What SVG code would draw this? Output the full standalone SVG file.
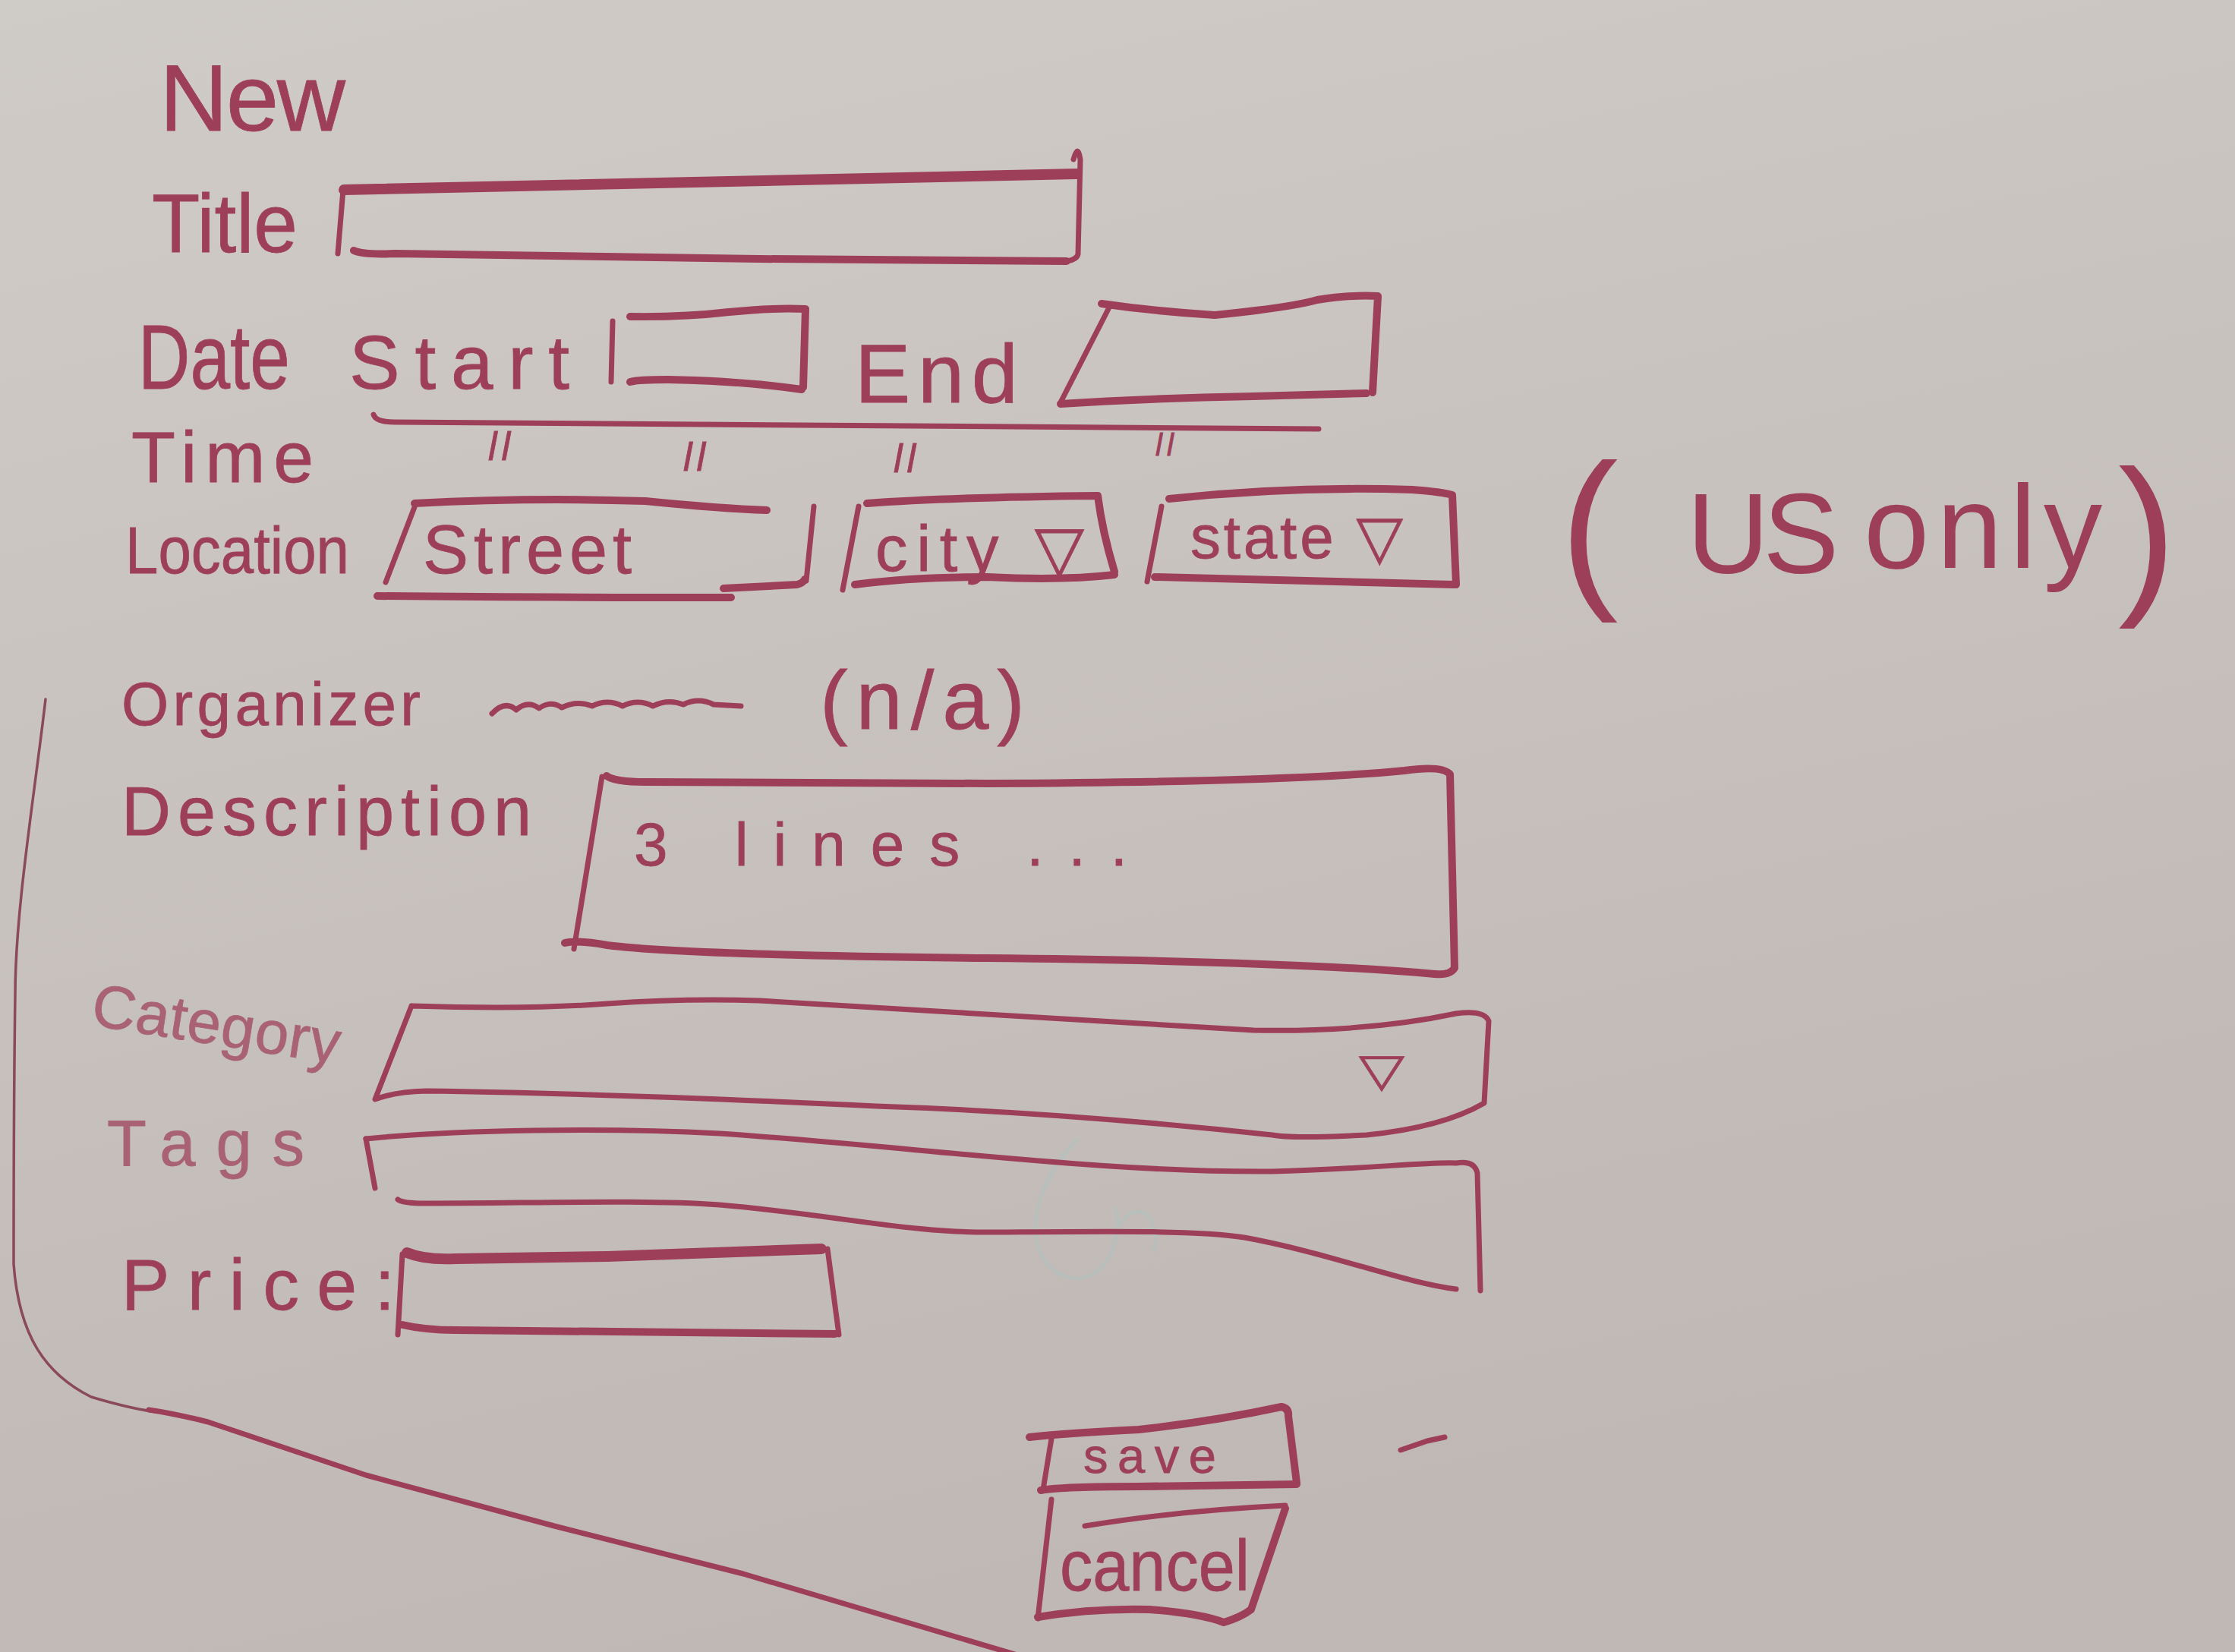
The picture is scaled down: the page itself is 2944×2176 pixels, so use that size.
<svg xmlns="http://www.w3.org/2000/svg" width="2944" height="2176" viewBox="0 0 2944 2176">
<defs>
<linearGradient id="bg" x1="0" y1="0" x2="0.3" y2="1">
<stop offset="0" stop-color="#cfcbc7"/>
<stop offset="0.5" stop-color="#c8c2be"/>
<stop offset="1" stop-color="#bfb8b4"/>
</linearGradient>
<radialGradient id="glare" cx="0.5" cy="0" r="0.5">
<stop offset="0" stop-color="#efece8" stop-opacity="0.95"/>
<stop offset="0.5" stop-color="#e4e1dd" stop-opacity="0.45"/>
<stop offset="1" stop-color="#d6d2ce" stop-opacity="0"/>
</radialGradient>
<style>
.ink{fill:none;stroke:#9e3f59;stroke-linecap:round;stroke-linejoin:round;stroke-width:10}
.thick{stroke-width:14}
.thin{stroke-width:7}
.hair{stroke-width:3.5;stroke:#8a4a5a}
.t{font-family:"Liberation Sans","DejaVu Sans",sans-serif;fill:#9e3f59;stroke:#9e3f59;stroke-width:0.8}
.faint{opacity:0.72}
</style>
</defs>
<rect width="2944" height="2176" fill="url(#bg)"/>
<ellipse cx="545" cy="0" rx="150" ry="330" fill="url(#glare)"/>
<ellipse cx="2030" cy="0" rx="120" ry="300" fill="url(#glare)"/>
<path d="M1420,1500 C1360,1560 1340,1650 1400,1680 C1450,1700 1480,1640 1470,1590 M1470,1620 C1490,1580 1530,1590 1520,1650" fill="none" stroke="#a9c4c2" stroke-width="4" opacity="0.5"/>

<g id="title-heading"><text class="t" x="210" y="172" font-size="125" textLength="245" lengthAdjust="spacing">New</text></g>

<g id="title-field">
<text class="t" x="200" y="332" font-size="110" textLength="192" lengthAdjust="spacingAndGlyphs">Title</text>
<path class="ink thick" d="M453,250 C700,246 1000,240 1418,229"/>
<path class="ink thin" d="M1414,210 Q1420,188 1423,210 L1420,335 Q1418,342 1405,344"/>
<path class="ink" d="M466,330 Q480,336 520,334 L1000,341 L1405,344"/>
<path class="ink thin" d="M452,250 L445,334"/>
</g>

<g id="date-field">
<text class="t" x="182" y="512" font-size="120" textLength="200" lengthAdjust="spacingAndGlyphs">Date</text>
<text class="t" x="460" y="512" font-size="100" textLength="290" lengthAdjust="spacing">Start</text>
<path class="ink" d="M830,417 Q900,418 960,411 Q1020,405 1061,407 L1058,510"/>
<path class="ink" d="M830,503 Q840,500 880,500 Q980,502 1056,513"/>
<path class="ink thin" d="M807,423 L805,503"/>
<text class="t" x="1126" y="530" font-size="110" textLength="215" lengthAdjust="spacing">End</text>
<path class="ink" d="M1451,400 Q1520,410 1600,415 Q1700,405 1735,395 Q1780,388 1815,390 L1808,517"/>
<path class="ink" d="M1397,532 Q1500,525 1650,522 L1800,518"/>
<path class="ink thin" d="M1462,403 L1397,530"/>
</g>

<g id="time-field">
<path class="ink thin" d="M492,546 Q495,556 520,556 Q1100,560 1737,565"/>
<text class="t" x="173" y="635" font-size="95" textLength="240" lengthAdjust="spacing">Time</text>
<text class="t" x="643" y="606" font-size="52" font-style="italic" letter-spacing="6">ll</text>
<text class="t" x="900" y="620" font-size="52" font-style="italic" letter-spacing="6">ll</text>
<text class="t" x="1177" y="622" font-size="52" font-style="italic" letter-spacing="6">ll</text>
<text class="t" x="1522" y="600" font-size="40" font-style="italic" letter-spacing="6">ll</text>
</g>

<g id="location-field">
<text class="t" x="165" y="755" font-size="88" textLength="295" lengthAdjust="spacingAndGlyphs">Location</text>
<path class="ink" d="M546,663 Q700,655 850,660 Q950,670 1010,672"/>
<path class="ink thin" d="M546,668 L508,767"/>
<path class="ink" d="M497,785 Q700,787 963,787"/>
<path class="ink thin" d="M1072,667 L1062,765"/>
<path class="ink" d="M953,775 L1050,770 Q1058,768 1060,763"/>
<text class="t" x="557" y="755" font-size="90" textLength="275" lengthAdjust="spacing">Street</text>
<path class="ink" d="M1142,663 Q1250,655 1446,653 Q1452,700 1468,753"/>
<path class="ink" d="M1126,770 Q1200,760 1300,760 Q1400,765 1468,757"/>
<path class="ink thin" d="M1131,667 L1110,777"/>
<text class="t" x="1153" y="752" font-size="85" textLength="275" lengthAdjust="spacing">city ▽</text>
<path class="ink" d="M1540,657 Q1700,640 1860,645 Q1900,648 1913,652 L1918,770"/>
<path class="ink" d="M1521,760 Q1700,765 1915,770"/>
<path class="ink thin" d="M1530,667 L1511,766"/>
<text class="t" x="1568" y="735" font-size="80" textLength="280" lengthAdjust="spacing">state ▽</text>
</g>

<g id="us-only-note">
<text class="t" style="stroke-width:0">
<tspan x="2055" y="772" font-size="230" font-weight="normal">(</tspan><tspan x="2222" y="755" font-size="150" letter-spacing="-8">US</tspan><tspan x="2455" y="748" font-size="155" letter-spacing="10">only</tspan><tspan x="2790" y="780" font-size="230">)</tspan>
</text>
</g>

<g id="organizer-field">
<text class="t" x="160" y="955" font-size="80" textLength="394" lengthAdjust="spacing">Organizer</text>
<path class="ink thin" d="M648,940 Q665,922 680,935 Q695,922 710,933 Q725,922 740,932 Q760,922 780,930 Q800,920 820,930 Q840,920 860,930 Q880,920 900,928 Q920,918 940,928 L976,930"/>
<text class="t" x="1080" y="960" font-size="110" textLength="270" lengthAdjust="spacing">(n/a)</text>
</g>

<g id="description-field">
<text class="t" x="160" y="1100" font-size="90" textLength="540" lengthAdjust="spacing">Description</text>
<path class="ink" d="M799,1022 Q810,1030 850,1030 L1300,1032 Q1700,1030 1850,1015 Q1900,1008 1910,1020 L1916,1275 Q1910,1285 1890,1283"/>
<path class="ink" d="M744,1242 Q760,1238 800,1245 Q900,1258 1300,1262 Q1700,1266 1890,1283"/>
<path class="ink thin" d="M793,1023 L756,1250"/>
<text class="t" x="835" y="1140" font-size="80" textLength="650" lengthAdjust="spacing">3 lines ...</text>
</g>

<g id="category-field">
<text class="t faint" x="118" y="1350" font-size="80" textLength="330" lengthAdjust="spacing" transform="rotate(9 118 1350)">Category</text>
<path class="ink thin" d="M542,1325 Q700,1330 800,1322 Q900,1315 1000,1318 Q1300,1335 1651,1357 Q1800,1360 1918,1335 Q1955,1330 1961,1345 L1955,1453 Q1900,1485 1800,1495 Q1700,1500 1676,1495 Q1400,1465 1154,1457 Q800,1440 561,1437 Q520,1438 494,1448 L542,1325"/>
<text class="t" x="1790" y="1430" font-size="60" textLength="60" lengthAdjust="spacingAndGlyphs">▽</text>
</g>

<g id="tags-field">
<text class="t faint" x="141" y="1535" font-size="85" textLength="260" lengthAdjust="spacing">Tags</text>
<path class="ink thin" d="M482,1500 C600,1488 800,1485 948,1493 C1200,1510 1450,1545 1676,1543 C1800,1540 1880,1530 1918,1532 Q1942,1528 1946,1545 L1950,1700"/>
<path class="ink thin" d="M482,1500 L494,1565"/>
<path class="ink thin" d="M524,1580 Q530,1585 560,1585 C700,1585 850,1580 948,1587 C1100,1600 1200,1625 1312,1623 C1450,1622 1580,1620 1639,1630 C1750,1650 1850,1690 1918,1698"/>
</g>

<g id="price-field">
<text class="t" x="160" y="1725" font-size="95" textLength="360" lengthAdjust="spacing">Price:</text>
<path class="ink thick" d="M536,1650 Q560,1660 600,1658 L800,1655 L1082,1645"/>
<path class="ink thin" d="M1090,1645 L1105,1758"/>
<path class="ink" d="M530,1745 Q560,1752 600,1752 L1100,1757"/>
<path class="ink thin" d="M530,1652 L524,1758"/>
</g>

<g id="save-button">
<path class="ink" d="M1356,1893 Q1400,1888 1500,1883 Q1600,1872 1688,1853 Q1698,1855 1697,1865 L1708,1953"/>
<path class="ink" d="M1371,1963 Q1400,1958 1500,1958 L1708,1955"/>
<path class="ink thin" d="M1385,1895 L1374,1962"/>
<text class="t" x="1427" y="1940" font-size="65" textLength="175" lengthAdjust="spacing">save</text>
</g>

<g id="cancel-button">
<path class="ink thin" d="M1385,1975 L1367,2132"/>
<path class="ink" d="M1367,2130 Q1440,2118 1514,2120 Q1580,2125 1612,2137 Q1635,2130 1648,2120 L1693,1987"/>
<path class="ink thin" d="M1429,2010 Q1550,1990 1693,1983"/>
<text class="t" x="1396" y="2095" font-size="95" textLength="250" lengthAdjust="spacingAndGlyphs">cancel</text>
</g>

<g id="connectors">
<path class="ink hair" d="M60,921 C45,1050 20,1200 20,1310 C18,1450 18,1600 18,1665 C25,1760 60,1810 120,1840 C160,1852 180,1856 200,1859"/>
<path class="ink thin" d="M196,1857 Q230,1862 274,1873 L482,1943 L730,2010 L979,2073 L1340,2180"/>
<path class="ink thin" d="M1845,1910 L1880,1898 L1903,1893"/>
</g>
</svg>
